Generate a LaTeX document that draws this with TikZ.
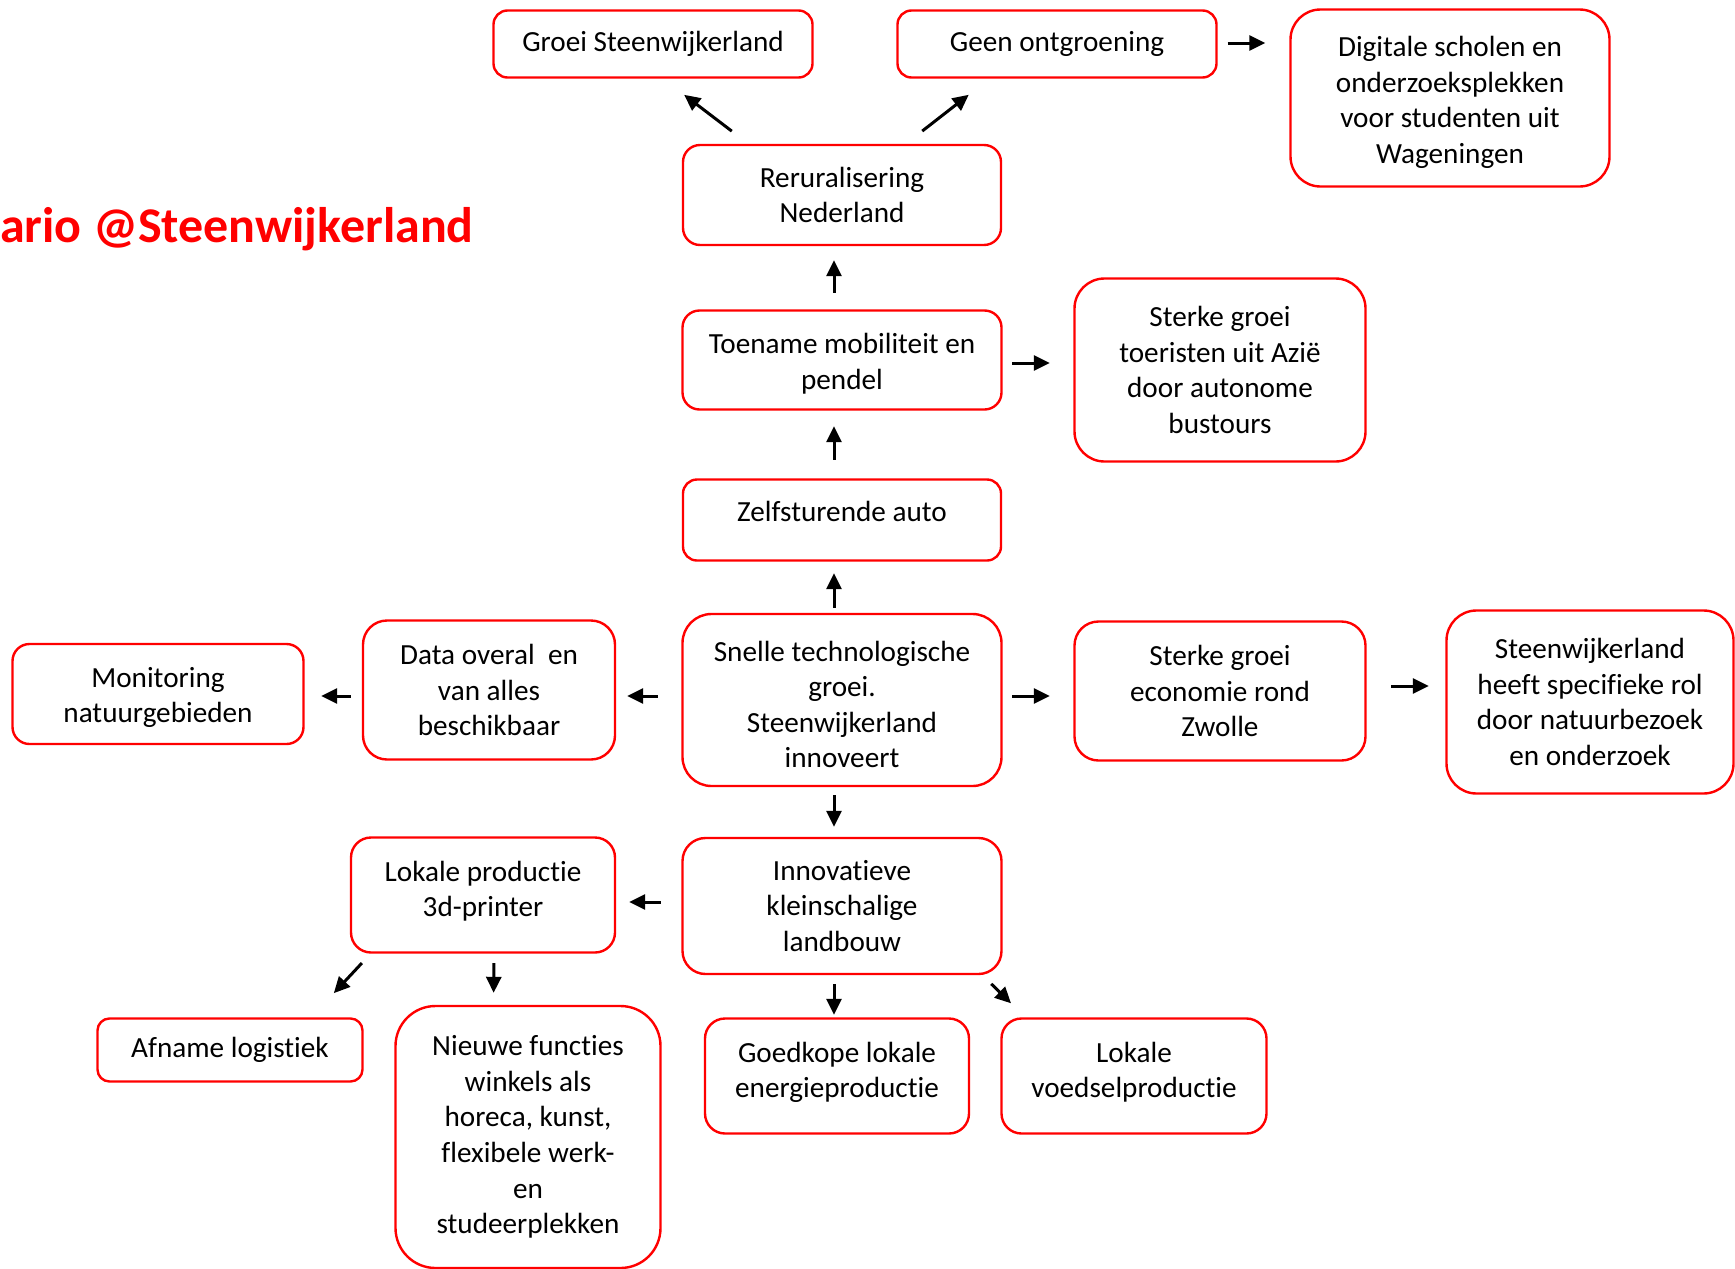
\documentclass[tikz,border=0pt]{standalone}
\usepackage{fontspec}
\setmainfont{Carlito}[Ligatures=NoCommon]
\usetikzlibrary{arrows.meta}
\newcommand\boxfont{\fontsize{29.2}{35.6}\selectfont}
\newcommand\titlefont{\fontsize{50}{60}\selectfont\bfseries}
\newcommand\tup[1]{\rule[-#1]{0pt}{0pt}}
\newcommand\tdn[1]{\rule{0pt}{#1}}
\tikzset{
  box/.style={draw=red, line width=2.4pt, rounded corners=#1, fill=white,
    align=center, text=black, inner sep=0pt, font=\boxfont},
  box/.default=16pt,
  arr/.style={-{Triangle[length=16pt,width=15pt]}, line width=3pt, black},
}
\begin{document}
\begin{tikzpicture}[x=1pt,y=-1pt]
\useasboundingbox (0,0) rectangle (1735,1269);
\clip (0,0) rectangle (1735,1269);

\node[anchor=base west, inner sep=0pt, text=red, font=\titlefont] (title) at (0,242) {ario @Steenwijkerland};

\node[box=14pt, minimum width=319pt, minimum height=67pt] (groei) at (653,44) {Groei Steenwijkerland};
\node[box=14pt, minimum width=319pt, minimum height=67pt] (geen) at (1057,44) {Geen ontgroening};
\node[box=30pt, minimum width=319pt, minimum height=177pt] (digit) at (1450,98) {\tdn{29.3pt}Digitale scholen en\\onderzoeksplekken\\voor studenten uit\\Wageningen};
\node[box=17pt, minimum width=318pt, minimum height=100pt] (rerur) at (842,195) {Reruralisering\\Nederland};
\node[box=17pt, minimum width=319pt, minimum height=99pt] (toen) at (842,360) {\tdn{27.1pt}Toename mobiliteit en\\pendel};
\node[box=30pt, minimum width=291pt, minimum height=183pt] (toer) at (1220,370) {Sterke groei\\toeristen uit Azië\\door autonome\\bustours};
\node[box=14pt, minimum width=318pt, minimum height=81pt] (zelf) at (842,520) {Zelfsturende auto\tup{18pt}};
\node[box=29pt, minimum width=319pt, minimum height=172pt] (snel) at (842,700) {\tdn{29.3pt}Snelle technologische\\groei.\\Steenwijkerland\\innoveert};
\node[box=24pt, minimum width=252pt, minimum height=139pt] (data) at (489,690) {Data overal~ en\\van alles\\beschikbaar};
\node[box=17pt, minimum width=291pt, minimum height=100pt] (moni) at (158,694) {\tdn{27pt}Monitoring\\natuurgebieden};
\node[box=24pt, minimum width=291pt, minimum height=139pt] (econ) at (1220,691) {Sterke groei\\economie rond\\Zwolle};
\node[box=30pt, minimum width=287pt, minimum height=183pt] (swk) at (1590,702) {Steenwijkerland\\heeft specifieke rol\\door natuurbezoek\\en onderzoek};
\node[box=23pt, minimum width=319pt, minimum height=136pt] (innov) at (842,906) {Innovatieve\\kleinschalige\\landbouw};
\node[box=20pt, minimum width=264pt, minimum height=115pt] (lokp) at (483,895) {Lokale productie\\3d-printer\tup{12.6pt}};
\node[box=12pt, minimum width=265pt, minimum height=63pt] (afn) at (230,1050) {Afname logistiek};
\node[box=40pt, minimum width=265pt, minimum height=262pt] (nieuw) at (528,1137) {Nieuwe functies\\winkels als\\horeca, kunst,\\flexibele werk-\\en\\studeerplekken};
\node[box=20pt, minimum width=264pt, minimum height=115pt] (goed) at (837,1076) {Goedkope lokale\\energieproductie\tup{12.6pt}};
\node[box=20pt, minimum width=265pt, minimum height=115pt] (voed) at (1134,1076) {Lokale\\voedselproductie\tup{12.6pt}};

% connectors
\draw[arr, shorten <=20.9pt, shorten >=26.6pt] ([xshift=-93.6pt]rerur.north) -- ([xshift=10pt]groei.south);
\draw[arr, shorten <=20.7pt, shorten >=26.2pt] ([xshift=63.9pt]rerur.north) -- ([xshift=-67.6pt]geen.south);
\draw[arr, shorten <=10pt, shorten >=24pt] ([yshift=1pt]geen.east) -- ([yshift=55pt]digit.west);
\draw[arr, shorten <=16.5pt, shorten >=14pt] ([xshift=-8pt]toen.north) -- ([xshift=-8pt]rerur.south);
\draw[arr, shorten <=9.5pt, shorten >=23.5pt] ([yshift=-3pt]toen.east) -- ([yshift=7pt]toer.west);
\draw[arr, shorten <=18.5pt, shorten >=15.5pt] ([xshift=-8pt]zelf.north) -- ([xshift=-8pt]toen.south);
\draw[arr, shorten <=5pt, shorten >=11.5pt] ([xshift=-8pt]snel.north) -- ([xshift=-8pt]zelf.south);
\draw[arr, shorten <=23.5pt, shorten >=11pt] ([yshift=4pt]snel.west) -- ([yshift=-6pt]data.east);
\draw[arr, shorten <=11pt, shorten >=16.5pt] ([yshift=-6pt]data.west) -- ([yshift=-2pt]moni.east);
\draw[arr, shorten <=9.5pt, shorten >=23.5pt] ([yshift=4pt]snel.east) -- ([yshift=-5pt]econ.west);
\draw[arr, shorten <=24.5pt, shorten >=16.5pt] ([yshift=5pt]econ.east) -- ([yshift=16pt]swk.west);
\draw[arr, shorten <=8pt, shorten >=10pt] ([xshift=-8pt]snel.south) -- ([xshift=-8pt]innov.north);
\draw[arr, shorten <=20.5pt, shorten >=13pt] ([yshift=4pt]innov.west) -- ([yshift=-7pt]lokp.east);
\draw[arr, shorten <=12.8pt, shorten >=33pt] ([xshift=-112.4pt]lokp.south) -- ([xshift=81.3pt]afn.north);
\draw[arr, shorten <=9.5pt, shorten >=12pt] ([xshift=11pt]lokp.south) -- ([xshift=-34.5pt]nieuw.north);
\draw[arr, shorten <=9pt, shorten >=2.5pt] ([xshift=-8pt]innov.south) -- ([xshift=-3pt]goed.north);
\draw[arr, shorten <=12.4pt, shorten >=20pt] ([xshift=140.4pt]innov.south) -- ([xshift=-108.7pt]voed.north);
\end{tikzpicture}
\end{document}
